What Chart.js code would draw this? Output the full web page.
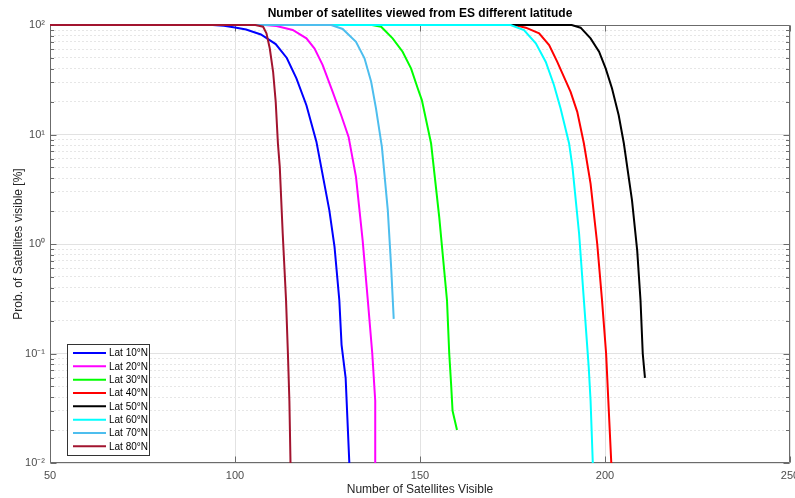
<!DOCTYPE html>
<html>
<head>
<meta charset="utf-8">
<script src="https://cdn.jsdelivr.net/npm/chart.js@4.4.1/dist/chart.umd.min.js"></script>
<style>
html,body{margin:0;padding:0;background:#fff;}
canvas{display:block;}
</style>
</head>
<body>
<canvas id="c" width="795" height="498"></canvas>
<script>
// ---- Data ----
const seriesLabels = ['Lat 10°N','Lat 20°N','Lat 30°N','Lat 40°N','Lat 50°N','Lat 60°N','Lat 70°N','Lat 80°N'];
const seriesColors = ['#0000FF','#FF00FF','#00FF00','#FF0000','#000000','#00FFFF','#4DBEEE','#A2142F'];

const lat10X = [50, 94, 97, 100, 103, 107, 111, 114, 116.6, 119.3, 122, 125.5, 126.9, 128.2, 128.8, 129.9, 130.9];
const lat10Y = [100, 100, 98.5, 95, 91, 82, 67, 50, 32.5, 18.5, 8.6, 2.03, 0.94, 0.305, 0.12, 0.06, 0.01];

const lat20X = [50, 108, 111.2, 115.6, 119.3, 121.5, 123.7, 126.4, 128.7, 130.7, 132.7, 134.5, 135.9, 137.1, 137.9, 137.9];
const lat20Y = [100, 100, 98, 90, 75.5, 61, 43, 24.5, 15, 9.5, 4.1, 1.08, 0.305, 0.1, 0.037, 0.01];

const lat30X = [50, 137, 139.5, 142.6, 145.3, 147.6, 149.4, 150.5, 153, 155.2, 157.3, 157.9, 158.4, 158.8, 160];
const lat30Y = [100, 100, 96.5, 75.5, 57, 40, 26.3, 20.6, 8.27, 1.76, 0.305, 0.1, 0.053, 0.03, 0.02];

const lat40X = [50, 175.5, 178.6, 182.2, 184.9, 187.1, 188.9, 190.7, 192.5, 194.3, 196.1, 197.9, 199.2, 200.3, 200.9, 201.7];
const lat40Y = [100, 100, 94.5, 84, 65.6, 46, 33.6, 24.5, 16.1, 8.27, 3.56, 1.0, 0.305, 0.1, 0.037, 0.01];

const lat50X = [50, 191, 193.4, 196.1, 198.4, 200.2, 201.9, 203.7, 205.1, 207.3, 208.7, 209.6, 210.2, 210.8];
const lat50Y = [100, 100, 94.5, 75.5, 57, 40, 26.3, 15, 8.27, 2.5, 0.873, 0.305, 0.1, 0.06];

const lat60X = [50, 174.5, 178.1, 181.3, 184, 186.2, 188, 190.3, 191.2, 193, 194.3, 195.6, 196.1, 196.7];
const lat60Y = [100, 100, 90, 68, 46, 28.3, 17.3, 8.27, 5.06, 1.24, 0.305, 0.075, 0.037, 0.01];

const lat70X = [50, 126, 129.1, 132.7, 135, 136.8, 138.1, 139.7, 141.3, 142.2, 142.9];
const lat70Y = [100, 100, 92, 70.3, 49.6, 30.3, 17.3, 7.7, 2.03, 0.615, 0.207];

const lat80X = [50, 105.5, 107.6, 108.5, 109.4, 110.3, 111.0, 111.6, 112.1, 112.9, 113.8, 114.3, 114.7, 115.0];
const lat80Y = [100, 100, 96.5, 84, 61, 37.4, 19.9, 8.27, 5.06, 1.24, 0.305, 0.1, 0.037, 0.01];

const xTickValues = [50, 100, 150, 200, 250];
const yDecades = [-2, -1, 0, 1, 2];

const chartTitle = 'Number of satellites viewed from ES different latitude';
const xTitle = 'Number of Satellites Visible';
const yTitle = 'Prob. of Satellites visible [%]';

// ---- Build datasets ----
const allX = [lat10X, lat20X, lat30X, lat40X, lat50X, lat60X, lat70X, lat80X];
const allY = [lat10Y, lat20Y, lat30Y, lat40Y, lat50Y, lat60Y, lat70Y, lat80Y];
const datasets = seriesLabels.map((lab, i) => ({
  label: lab,
  data: allX[i].map((x, k) => ({x: x, y: allY[i][k]})),
  borderColor: seriesColors[i],
  backgroundColor: seriesColors[i],
  borderWidth: 2,
  pointRadius: 0,
  tension: 0,
  fill: false,
  clip: 3,
  order: seriesLabels.length - 1 - i
}));

function isMajor(v) {
  const l = Math.log10(v);
  return Math.abs(l - Math.round(l)) < 1e-9;
}
const supMap = {'-':'⁻','0':'⁰','1':'¹','2':'²','3':'³','4':'⁴','5':'⁵','6':'⁶','7':'⁷','8':'⁸','9':'⁹'};

const FONT = '"Liberation Sans", Arial, Helvetica, sans-serif';
const AXIS_COLOR = '#6b6b6b';

const framePlugin = {
  id: 'frame',
  beforeDatasetsDraw(chart) {
    const ctx = chart.ctx;
    const a = chart.chartArea;
    const xs = chart.scales.x, ys = chart.scales.y;
    ctx.save();
    ctx.strokeStyle = AXIS_COLOR;
    ctx.lineWidth = 1;
    const L = Math.round(a.left) + 0.5, R = Math.round(a.right) - 0.5;
    const T = Math.round(a.top) + 0.5, B = Math.round(a.bottom) - 0.5;
    ctx.beginPath();
    ctx.rect(L, T, R - L, B - T);
    ctx.stroke();
    ctx.beginPath();
    xs.ticks.forEach(t => {
      const px = Math.round(xs.getPixelForValue(t.value)) + 0.5;
      ctx.moveTo(px, B); ctx.lineTo(px, B - 6);
      ctx.moveTo(px, T); ctx.lineTo(px, T + 6);
    });
    ys.ticks.forEach(t => {
      const py = Math.round(ys.getPixelForValue(t.value)) + 0.5;
      const len = isMajor(t.value) ? 6 : 3.5;
      ctx.moveTo(L, py); ctx.lineTo(L + len, py);
      ctx.moveTo(R, py); ctx.lineTo(R - len, py);
    });
    ctx.stroke();
    ctx.restore();
  },
  afterDatasetsDraw(chart) {
    const ctx = chart.ctx;
    const a = chart.chartArea;
    ctx.save();
    // title
    ctx.fillStyle = '#000';
    ctx.font = 'bold 12px ' + FONT;
    ctx.textAlign = 'center';
    ctx.textBaseline = 'middle';
    ctx.fillText(chartTitle, (a.left + a.right) / 2, 14);

    // legend
    const bx = a.left + 17, bw = 82, bh = 111;
    const by = a.bottom - 8 - bh;
    ctx.fillStyle = '#fff';
    ctx.fillRect(Math.round(bx) + 0.5, Math.round(by) + 0.5, bw, bh);
    ctx.strokeStyle = '#333';
    ctx.lineWidth = 1;
    ctx.strokeRect(Math.round(bx) + 0.5, Math.round(by) + 0.5, bw, bh);
    ctx.font = '10px ' + FONT;
    ctx.textAlign = 'left';
    ctx.textBaseline = 'middle';
    chart.data.datasets.forEach((ds, i) => {
      const yy = by + 9 + i * 13.33;
      ctx.strokeStyle = ds.borderColor;
      ctx.lineWidth = 2;
      ctx.beginPath();
      ctx.moveTo(bx + 6, yy); ctx.lineTo(bx + 39, yy);
      ctx.stroke();
      ctx.fillStyle = '#000';
      ctx.fillText(ds.label, bx + 42, yy + 0.5);
    });
    ctx.restore();
  }
};

new Chart(document.getElementById('c'), {
  type: 'line',
  data: { datasets: datasets },
  options: {
    responsive: false,
    animation: false,
    layout: { padding: { left: 0, right: 5, top: 25, bottom: 0 } },
    plugins: {
      legend: { display: false },
      title: { display: false },
      tooltip: { enabled: false }
    },
    scales: {
      x: {
        type: 'linear',
        min: 50, max: 250,
        afterBuildTicks: s => { s.ticks = xTickValues.map(v => ({value: v})); },
        afterFit: s => { s.height = 35; s.paddingLeft = 0; s.paddingRight = 0; },
        grid: { color: '#e2e2e2', lineWidth: 1, drawTicks: false },
        border: { display: false },
        ticks: { padding: 6, color: '#4d4d4d', font: { family: FONT, size: 11 }, maxRotation: 0,
          callback: v => String(v) },
        title: { display: true, text: xTitle, color: '#262626', font: { family: FONT, size: 12 }, padding: { top: 0, bottom: 1 } }
      },
      y: {
        type: 'logarithmic',
        min: 0.01, max: 100,
        afterBuildTicks: s => {
          const t = [];
          for (let e = -2; e <= 1; e++) for (let m = 1; m <= 9; m++) t.push({value: m * Math.pow(10, e)});
          t.push({value: 100});
          s.ticks = t;
        },
        afterFit: s => { s.width = 50; s.paddingTop = 0; s.paddingBottom = 0; },
        grid: {
          drawTicks: false,
          lineWidth: 1,
          color: c => (c.tick && isMajor(c.tick.value)) ? '#e2e2e2' : '#e6e6e6'
        },
        border: {
          display: false,
          dash: c => (c.tick && !isMajor(c.tick.value)) ? [2, 2] : []
        },
        ticks: {
          autoSkip: false,
          padding: 5,
          color: '#4d4d4d',
          font: { family: FONT, size: 11 },
          callback: v => {
            if (!isMajor(v)) return '';
            const e = Math.round(Math.log10(v));
            return '10' + String(e).split('').map(ch => supMap[ch]).join('');
          }
        },
        title: { display: true, text: yTitle, color: '#262626', font: { family: FONT, size: 12 }, padding: { top: 11, bottom: 0 } }
      }
    }
  },
  plugins: [framePlugin]
});
</script>
</body>
</html>
